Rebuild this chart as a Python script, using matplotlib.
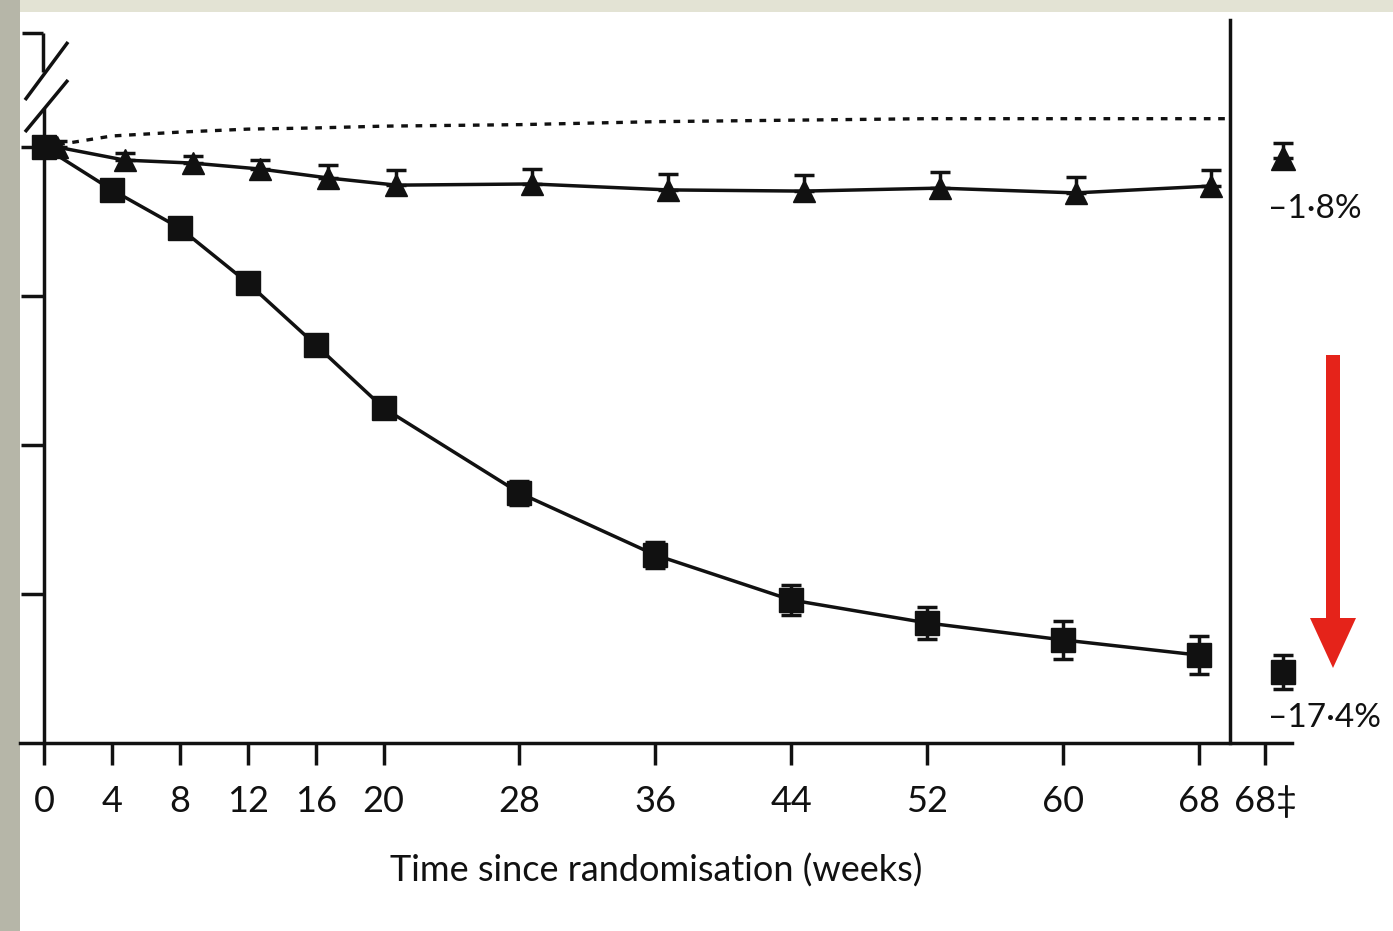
import matplotlib
matplotlib.use("Agg")
import matplotlib.pyplot as plt
from matplotlib.patches import Rectangle, FancyArrow

plt.rcParams["font.family"] = ["Lato", "DejaVu Sans"]

# ---- data -------------------------------------------------------------
weeks = [0, 4, 8, 12, 16, 20, 28, 36, 44, 52, 60, 68]
tick_labels = ["0", "4", "8", "12", "16", "20", "28", "36", "44", "52", "60", "68", "68‡"]

# change in body weight from baseline (%)
sema_pct = [0, -1.44, -2.72, -4.56, -6.64, -8.76, -11.61, -13.69, -15.20, -15.97, -16.54, -17.05]
sema_err = [0.25, 0.3, 0.3, 0.3, 0.3, 0.3, 0.4, 0.45, 0.5, 0.55, 0.63, 0.63]
placebo_pct = [0, -0.44, -0.54, -0.74, -1.04, -1.28, -1.24, -1.44, -1.48, -1.38, -1.54, -1.31]
placebo_err = [0.2, 0.25, 0.25, 0.3, 0.45, 0.5, 0.5, 0.55, 0.55, 0.55, 0.55, 0.55]
reference_pct = [0, 0.37, 0.5, 0.6, 0.64, 0.7, 0.75, 0.85, 0.9, 0.95, 0.95, 0.95]

# on-treatment estimate at week 68
end_labels = ["–1·8%", "–17·4%"]
end_pct = [-1.8, -17.4]
end_err = [0.45, 0.52]

# ---- layout helpers (figure pixels -> data units) ---------------------
W, H = 1393, 931
X0PX, PX_PER_WEEK = 44, 16.98
Y0PX, PX_PER_PCT = 147, 29.8


def wx(px):
    return (px - X0PX) / PX_PER_WEEK


def py(px):
    return (Y0PX - px) / PX_PER_PCT


fig = plt.figure(figsize=(W / 100, H / 100), dpi=100)
fig.patch.set_facecolor("white")

# scanned page edge
bg = fig.add_axes([0, 0, 1, 1], zorder=0)
bg.set_xlim(0, W)
bg.set_ylim(H, 0)
bg.axis("off")
bg.add_patch(Rectangle((0, 0), W, 12, color="#e3e3d4", lw=0))
bg.add_patch(Rectangle((0, 0), 20, H, color="#b6b6a8", lw=0))

# ---- main panel -------------------------------------------------------
LW = 2.5
INK = "#111111"
ax = fig.add_axes([20 / W, (H - 743) / H, (1292 - 20) / W, (743 - 20) / H], zorder=2)
ax.patch.set_alpha(0)
ax.set_xlim(wx(20), wx(1292))
ax.set_ylim(py(743), py(20))

divider_x = wx(1230)
ax.spines["top"].set_visible(False)
ax.spines["left"].set_position(("data", 0))
ax.spines["left"].set_bounds(py(743), py(110))
ax.spines["right"].set_position(("data", divider_x))
for s in ("left", "right", "bottom"):
    ax.spines[s].set_linewidth(LW)
    ax.spines[s].set_color(INK)

xtick_pos = weeks + [wx(1265)]
ax.set_xticks(xtick_pos, tick_labels)
ax.set_yticks([0, -5, -10, -15])
ax.set_yticklabels([])
ax.yaxis.set_ticks_position("left")
ax.tick_params(axis="x", direction="out", length=16, width=LW, pad=14,
               labelsize=26, colors=INK)
ax.tick_params(axis="y", direction="out", length=16.5, width=LW, colors=INK)
ax.set_xlabel("Time since randomisation (weeks)", fontsize=26, labelpad=26,
              color=INK)

# dotted reference curve runs up to the divider
ax.plot(weeks + [divider_x], reference_pct + [reference_pct[-1]],
        ls=(0, (2.0, 2.3)), lw=2.4, color=INK, zorder=3)

# placebo arm: upper error bar only, triangles offset slightly to the right
dodge = 0.75
ax.errorbar([w + dodge for w in weeks], placebo_pct,
            yerr=[[0] * len(placebo_err), placebo_err],
            fmt="^-", color=INK, ms=16, lw=LW, elinewidth=LW,
            capsize=7.5, capthick=LW, zorder=4, clip_on=False)
ax.errorbar(weeks, sema_pct, yerr=sema_err,
            fmt="s-", color=INK, ms=17, lw=LW, elinewidth=LW,
            capsize=7.5, capthick=LW, zorder=5, clip_on=False)

# ---- week-68 on-treatment column --------------------------------------
ax2 = ax.twinx()
ax2.set_ylim(-19.56, 2.39)
ax2.axis("off")
end_x = wx(1283)
for val, err, mk, lab in zip(end_pct, end_err, ["^", "s"], end_labels):
    yerr = [[0], [err]] if mk == "^" else [err]
    ax2.errorbar([end_x], [val], yerr=yerr, fmt=mk, color=INK,
                 ms=17 if mk == "^" else 17, elinewidth=LW, capsize=7.5,
                 capthick=LW, clip_on=False)
    ax2.annotate(lab, xy=(end_x, val), xytext=(-11, -37 if mk == "^" else -33),
                 textcoords="offset points", ha="left", va="center",
                 fontsize=24, color=INK, annotation_clip=False)

# ---- overlay: axis break and red arrow --------------------------------
fg = fig.add_axes([0, 0, 1, 1], zorder=3)
fg.set_xlim(0, W)
fg.set_ylim(H, 0)
fg.axis("off")
kw = dict(color=INK, lw=LW, solid_capstyle="butt")
fg.plot([25, 68], [100, 42], **kw)
fg.plot([25, 68], [132, 80], **kw)
fg.plot([43, 43], [72, 33], **kw)
fg.plot([22, 43], [33, 33], **kw)
fg.add_patch(FancyArrow(1333, 355, 0, 313, width=14, head_width=46,
                        head_length=50, length_includes_head=True,
                        color="#e5231a", lw=0))

fig.savefig("out.png", dpi=100, facecolor=fig.get_facecolor())
